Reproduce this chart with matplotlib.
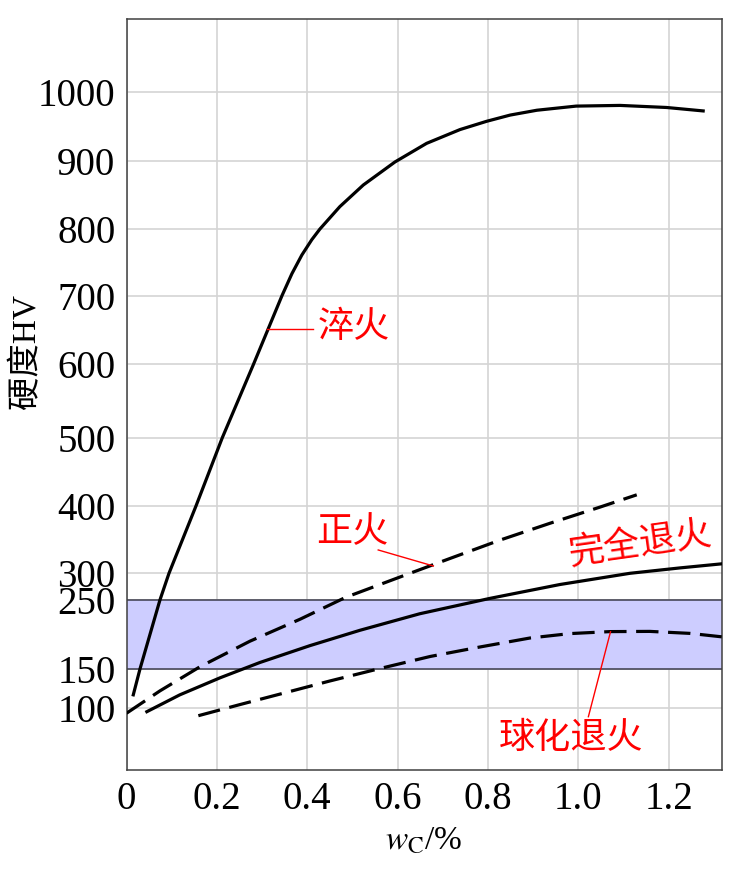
import matplotlib.pyplot as plt
import numpy as np

plt.rcParams['font.family'] = ['Liberation Serif', 'Noto Sans CJK SC']
plt.rcParams['mathtext.fontset'] = 'stix'

# carbon content (%) and hardness HV for each treatment
wc_quench = [0.015, 0.030, 0.074, 0.094, 0.154, 0.212, 0.281, 0.344, 0.366, 0.388,
             0.410, 0.428, 0.472, 0.524, 0.594, 0.664, 0.738, 0.797, 0.849, 0.908,
             0.995, 1.092, 1.195, 1.276]
hv_quench = [117, 150, 250, 300, 400, 500, 600, 700, 733, 761,
             784, 800, 833, 865, 899, 926, 946, 958, 967, 974,
             980, 981, 978, 973]

wc_normal = [0.0, 0.074, 0.163, 0.273, 0.384, 0.485, 0.605, 0.716, 0.826, 0.937, 1.048, 1.129]
hv_normal = [92, 122, 153, 190, 222, 255, 293, 322, 349, 374, 398, 416]

wc_full = [0.045, 0.118, 0.207, 0.295, 0.406, 0.517, 0.649, 0.804, 0.959, 1.114, 1.225, 1.317]
hv_full = [94.5, 117, 138.5, 159, 183.6, 206, 230, 253, 279, 300, 308, 314]

wc_sphero = [0.159, 0.251, 0.340, 0.450, 0.561, 0.672, 0.782, 0.893, 0.981, 1.070,
             1.158, 1.247, 1.317]
hv_sphero = [88, 104.7, 118, 134.5, 150.3, 167.8, 181.6, 194.7, 201.1, 204,
             204.3, 201.4, 196.4]

band_low, band_high = 150, 250

y_ticks = [100, 150, 250, 300, 400, 500, 600, 700, 800, 900, 1000]
x_ticks = [0, 0.2, 0.4, 0.6, 0.8, 1.0, 1.2]
x_tick_labels = ['0', '0.2', '0.4', '0.6', '0.8', '1.0', '1.2']

# the original axis is not evenly spaced, so map HV piecewise onto the axis
scale_vals = [0, 100, 150, 250, 300, 400, 500, 600, 700, 800, 900, 1000, 1106]
scale_pos = [0, 61.7, 101.3, 170, 196.7, 264.3, 332.3, 405.7, 474.3, 541, 608.7, 677.7, 751]


def forward(v):
    return np.interp(v, scale_vals, scale_pos)


def inverse(p):
    return np.interp(p, scale_pos, scale_vals)


fig = plt.figure(figsize=(7.41, 8.69), dpi=100)
ax = fig.add_axes([126.5 / 741, 99 / 869, 595.2 / 741, 751 / 869])
ax.set_yscale('function', functions=(forward, inverse))
ax.set_xlim(0, 1.317)
ax.set_ylim(0, 1106)

ax.axhspan(band_low, band_high, facecolor='#cdcdff', edgecolor='none', zorder=1)
ax.axhline(band_low, color='#3c3c4c', lw=1.1, zorder=1.5)
ax.axhline(band_high, color='#3c3c4c', lw=1.1, zorder=1.5)

lw = 2.3
ax.plot(wc_quench, hv_quench, color='black', lw=lw, zorder=3)
ax.plot(wc_full, hv_full, color='black', lw=lw, zorder=3)
ax.plot(wc_normal, hv_normal, color='black', lw=lw, dashes=(7, 3), zorder=3)
ax.plot(wc_sphero, hv_sphero, color='black', lw=lw, dashes=(7, 3), zorder=3)

# labels with red leader lines
cjk = 'Noto Sans CJK SC'
ax.plot([0.310, 0.413], [651, 651], color='red', lw=1, zorder=4)
ax.text(0.424, 655, '淬火', color='red', fontsize=26, family=cjk, ha='left', va='center')
ax.plot([0.557, 0.679], [334.5, 310.8], color='red', lw=1, zorder=4)
ax.text(0.50, 361.5, '正火', color='red', fontsize=26, family=cjk, ha='center', va='center')
ax.text(1.136, 342, '完全退火', color='red', fontsize=26, family=cjk, ha='center', va='center',
        rotation=8, rotation_mode='anchor')
ax.plot([1.022, 1.071], [86.4, 203.8], color='red', lw=1, zorder=4)
ax.text(0.983, 51.4, '球化退火', color='red', fontsize=26, family=cjk, ha='center', va='center')

ax.set_xticks(x_ticks)
ax.set_xticklabels(x_tick_labels)
ax.set_yticks(y_ticks)
ax.set_yticklabels([str(t) for t in y_ticks])
ax.yaxis.set_minor_locator(plt.NullLocator())
ax.tick_params(length=0, labelsize=28, pad=8)

ax.set_axisbelow(True)
ax.grid(True, color='#d4d4d4', lw=1.2)
for s in ax.spines.values():
    s.set_color('#404040')
    s.set_linewidth(1.1)

ax.set_xlabel(r'$w_{\mathrm{C}}$/%', fontsize=24)
ax.xaxis.set_label_coords(0.5, -0.075)
ax.set_ylabel('硬度HV', fontsize=24)
ax.yaxis.set_label_coords(-0.142, 0.557)

fig.savefig('out.png', dpi=100)
